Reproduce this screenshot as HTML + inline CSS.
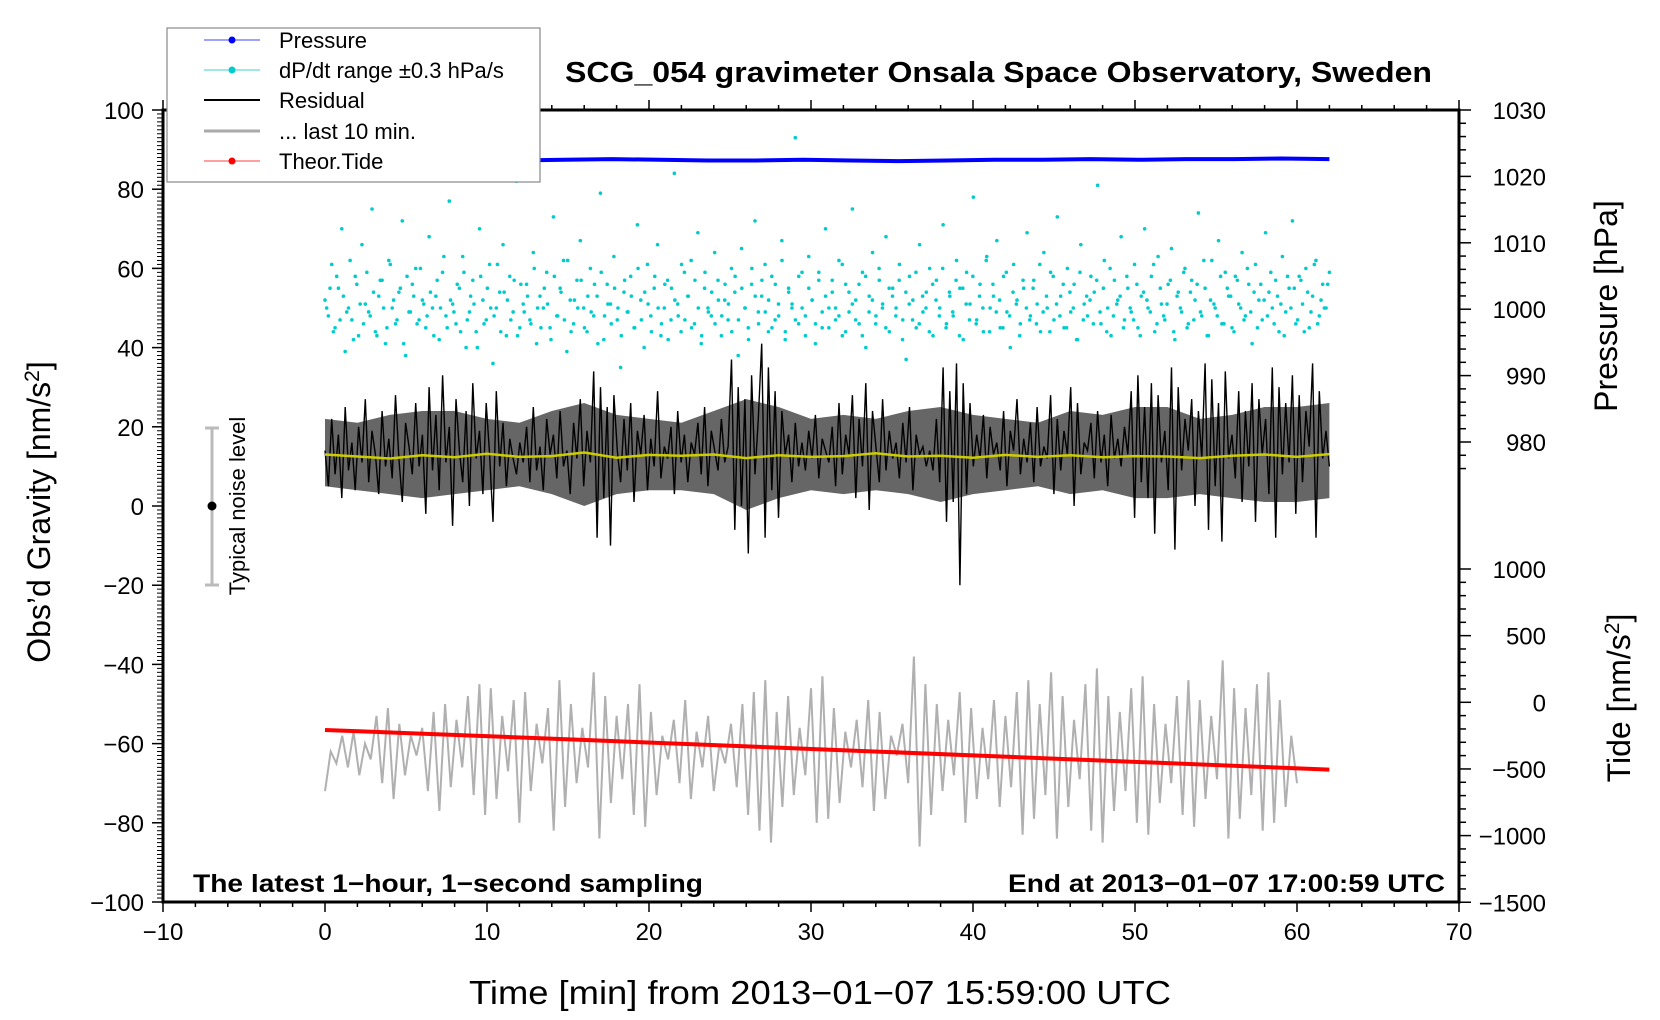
<!DOCTYPE html>
<html><head><meta charset="utf-8"><style>
html,body{margin:0;padding:0;background:#fff;}
svg{display:block;font-family:"Liberation Sans",sans-serif;}
</style></head><body>
<svg id="chart" width="1660" height="1020" viewBox="0 0 1660 1020" xmlns="http://www.w3.org/2000/svg">
<g id="axes"></g>
<g id="marks"></g>
<text x="565" y="82" font-size="29" font-weight="bold" textLength="867" lengthAdjust="spacingAndGlyphs">SCG_054 gravimeter Onsala Space Observatory, Sweden</text>
<text x="469" y="1004" font-size="33" textLength="702" lengthAdjust="spacingAndGlyphs">Time [min] from 2013−01−07 15:59:00 UTC</text>
<text transform="translate(50,512) rotate(-90)" text-anchor="middle" font-size="32">Obs’d Gravity [nm/s<tspan baseline-shift="super" font-size="21">2</tspan>]</text>
<text transform="translate(1617,306) rotate(-90)" text-anchor="middle" font-size="32">Pressure [hPa]</text>
<text transform="translate(1630,698) rotate(-90)" text-anchor="middle" font-size="32">Tide [nm/s<tspan baseline-shift="super" font-size="21">2</tspan>]</text>
<text x="193" y="892" font-size="25" font-weight="bold" textLength="510" lengthAdjust="spacingAndGlyphs">The latest 1−hour, 1−second sampling</text>
<text x="1445" y="892" font-size="25" font-weight="bold" text-anchor="end" textLength="437" lengthAdjust="spacingAndGlyphs">End at 2013−01−07 17:00:59 UTC</text>
<g>
<line x1="212" y1="428" x2="212" y2="585" stroke="#bbb" stroke-width="3"/>
<line x1="205" y1="428" x2="219" y2="428" stroke="#bbb" stroke-width="3"/>
<line x1="205" y1="585" x2="219" y2="585" stroke="#bbb" stroke-width="3"/>
<circle cx="212" cy="506" r="4.5" fill="#000"/>
<text transform="translate(245,506) rotate(-90)" text-anchor="middle" font-size="22">Typical noise level</text>
</g>
<g>
<rect x="167" y="28" width="373" height="154" fill="#fff" stroke="#888" stroke-width="1.2"/>
<g><line x1="204" y1="40" x2="260" y2="40" stroke="#4040ff" stroke-width="1"/><circle cx="232" cy="40" r="3.5" fill="#0000ff"/><text x="279" y="48" font-size="22">Pressure</text></g>
<g><line x1="204" y1="70" x2="260" y2="70" stroke="#40d0d0" stroke-width="1"/><circle cx="232" cy="70" r="3.5" fill="#00cccc"/><text x="279" y="78" font-size="22">dP/dt range ±0.3 hPa/s</text></g>
<g><line x1="204" y1="100" x2="260" y2="100" stroke="#000" stroke-width="2"/><text x="279" y="108" font-size="22">Residual</text></g>
<g><line x1="204" y1="131" x2="260" y2="131" stroke="#aaa" stroke-width="3"/><text x="279" y="139" font-size="22">... last 10 min.</text></g>
<g><line x1="204" y1="161" x2="260" y2="161" stroke="#ff4040" stroke-width="1"/><circle cx="232" cy="161" r="3.5" fill="#ff0000"/><text x="279" y="169" font-size="22">Theor.Tide</text></g>
</g>
</svg>
<script>
const xTicks=[-10,0,10,20,30,40,50,60,70];
const gTicks=[100,80,60,40,20,0,-20,-40,-60,-80,-100];
const pTicks=[1030,1020,1010,1000,990,980];
const tTicks=[1000,500,0,-500,-1000,-1500];
const pressure=[1022.6,1022.5,1022.6,1022.5,1022.4,1022.5,1022.6,1022.5,1022.4,1022.4,1022.5,1022.4,1022.3,1022.4,1022.5,1022.5,1022.6,1022.5,1022.6,1022.6,1022.7,1022.6];
const dpdt=[52,48,61,45,55,70,39,50,47,58,43,66,51,49,75,44,53,57,41,62,50,46,54,72,38,49,56,60,47,52,
45,68,50,53,42,59,48,77,51,46,55,63,40,49,57,44,70,52,47,61,36,50,54,66,43,58,49,82,45,51,
56,47,64,41,53,50,59,45,73,48,55,62,39,52,46,57,67,50,44,60,48,53,79,42,56,51,63,47,35,54,
49,58,45,71,52,40,61,48,55,66,43,50,57,47,84,51,44,59,53,62,46,69,41,55,50,48,64,57,43,52,
47,60,54,38,65,50,45,56,72,49,53,61,44,58,47,51,67,42,55,50,93,46,59,48,63,52,41,57,45,70,
50,54,47,62,43,56,49,75,52,46,59,40,53,64,48,57,51,68,44,55,50,61,47,37,58,52,45,66,49,54,
60,43,57,50,71,46,53,48,62,55,42,59,51,78,47,56,44,63,50,53,67,45,58,49,40,61,52,46,55,69,
48,57,51,44,64,50,59,47,73,53,45,60,49,56,42,66,51,48,58,54,81,46,62,50,43,57,52,68,47,55,
49,61,45,53,70,50,58,44,63,51,47,56,65,42,54,49,60,46,57,52,74,48,55,43,62,50,67,46,59,53,
45,58,51,64,48,56,41,61,52,47,69,54,50,57,44,63,49,55,72,46,58,51,60,45,53,62,48,56,50,59];
const dpdt2=[50,55,44,58,47,53,49,62,42,56,51,46,59,48,54,43,57,50,45,61,52,47,55,41,58,49,53,46,60,51,
48,54,43,57,50,63,45,52,49,56,44,59,47,53,51,40,58,46,55,50,48,61,44,54,52,47,57,43,56,49,
53,46,60,50,45,55,51,42,58,48,54,47,62,44,52,50,57,45,53,49,56,41,59,48,51,46,55,50,43,57,
49,53,45,60,47,54,51,44,58,50,46,56,42,55,52,48,61,47,53,45,57,50,43,59,49,54,46,52,48,56,
51,44,58,47,55,50,42,60,53,46,57,49,52,45,56,48,62,44,54,51,47,58,50,43,55,52,46,59,49,53,
45,57,50,48,61,44,54,51,47,56,43,58,49,52,46,60,50,45,55,53,48,57,42,54,51,47,59,46,53,50,
44,56,52,48,60,45,54,49,57,43,55,51,47,58,46,53,50,62,44,56,49,52,45,59,48,54,51,43,57,50,
47,55,46,61,49,53,44,58,51,48,56,45,54,50,42,59,47,53,52,46,57,49,55,44,60,48,51,53,45,58,
50,47,56,43,54,52,49,61,46,55,48,51,57,44,53,50,59,45,54,47,56,49,62,43,52,51,48,58,46,55,
53,44,57,50,47,60,49,54,45,56,52,48,59,46,53,51,43,58,50,55,47,57,44,54,49,61,46,52,50,56];
const residual=[14,5,22,8,18,2,25,9,16,4,20,11,27,6,19,13,3,24,10,17,7,28,12,1,21,15,8,26,10,18,
-2,30,9,23,4,33,11,20,-5,27,14,6,24,0,31,12,19,3,26,13,-4,29,10,21,5,17,12,8,16,11,
20,6,25,9,15,4,22,13,18,7,24,10,14,3,21,12,27,5,19,11,34,-8,30,2,25,-10,28,14,6,22,
9,26,1,19,13,23,4,17,10,29,7,15,12,20,3,24,11,18,6,16,13,21,8,25,5,19,14,9,22,11,
15,37,-6,30,0,27,-12,33,8,22,41,-8,35,4,29,-3,24,13,18,6,21,10,16,9,19,12,23,7,17,14,
11,20,5,26,8,18,13,28,2,22,10,31,-1,24,15,6,27,9,19,12,16,7,21,11,25,4,18,13,15,10,
14,9,22,6,35,-4,29,1,36,-20,31,3,26,10,18,12,23,7,20,13,16,9,24,5,19,14,27,8,17,11,
21,6,25,10,15,12,28,3,22,9,19,13,30,0,26,8,16,14,21,7,24,11,18,5,23,12,17,10,20,13,
29,-3,33,6,25,2,31,-7,28,11,19,4,35,-11,30,9,22,14,27,0,24,12,36,-6,32,5,26,-9,34,12,
18,7,29,1,24,10,31,-4,27,13,22,3,35,-8,30,8,26,11,33,-2,28,6,24,15,36,-8,29,12,19,10];
const coreUpper=[22,21,23,24,24,22,21,24,26,23,22,21,24,27,25,22,23,22,24,25,23,22,21,24,23,25,25,22,23,25,25,26];
const coreLower=[5,4,3,2,3,4,5,3,0,3,4,4,3,-1,2,4,3,4,3,1,3,4,5,3,4,2,2,3,2,1,1,2];
const smooth=[13,12.5,12,12.8,12.3,13.2,12.4,12.6,13.5,12.2,12.9,12.7,13,12.1,12.8,12.4,12.6,13.3,12.5,12.7,12.2,12.9,12.4,12.8,12.3,12.6,12.5,12.1,12.7,13,12.4,13.1];
const last10=[-72,-62,-65,-58,-66,-57,-68,-60,-64,-53,-70,-51,-74,-55,-68,-58,-63,-56,-72,-52,-77,-50,-71,-54,-66,-48,-73,-45,-78,-46,-74,-53,-67,-49,-80,-47,-72,-55,-65,-51,
-82,-44,-76,-50,-70,-56,-66,-42,-84,-48,-75,-53,-69,-50,-78,-45,-81,-52,-73,-58,-64,-54,-70,-49,-74,-57,-66,-53,-72,-60,-65,-55,-71,-50,-78,-47,-82,-44,-85,-52,
-76,-48,-73,-56,-68,-46,-80,-43,-79,-51,-75,-57,-66,-54,-71,-49,-77,-52,-74,-58,-63,-55,-70,-38,-86,-45,-78,-50,-72,-54,-68,-47,-80,-51,-74,-56,-69,-49,-76,-53,
-71,-47,-83,-44,-79,-50,-73,-42,-84,-48,-76,-54,-69,-45,-82,-41,-85,-48,-77,-52,-72,-46,-80,-43,-83,-50,-75,-55,-70,-48,-78,-44,-81,-49,-74,-53,-69,-39,-84,-46,
-79,-51,-73,-45,-82,-42,-80,-49,-76,-58,-70];
const tide=[-208,-280,-355,-430,-505];
const xS=v=>163+(v+10)*16.2;
const gY=v=>110+(100-v)*3.96;
const pY=v=>110+(1030-v)*6.64;
const tY=v=>569+(1000-v)*0.1333;
const NS='http://www.w3.org/2000/svg';
const axes=document.getElementById('axes');
const marks=document.getElementById('marks');
function mk(parent,tag,attrs){const e=document.createElementNS(NS,tag);for(const k in attrs)e.setAttribute(k,attrs[k]);parent.appendChild(e);return e;}
function tline(p,x1,y1,x2,y2,w){mk(p,'line',{x1,y1,x2,y2,stroke:'#000','stroke-width':w||1.5});}
const frame=mk(axes,'rect',{x:163,y:110,width:1296,height:792,fill:'none',stroke:'#000','stroke-width':3});


for(let v=-10;v<=70;v+=2){const x=xS(v);const maj=v%10===0;tline(axes,x,902,x,maj?912:907);tline(axes,x,110,x,maj?100:105);}
xTicks.forEach(v=>{const t=mk(axes,'text',{x:xS(v),y:940,'font-size':24,'text-anchor':'middle'});t.textContent=String(v).replace('-','−');

});
for(let v=-100;v<=100;v+=1){const y=gY(v);const maj=v%20===0;tline(axes,163,y,maj?152:157,y,1);}
gTicks.forEach(v=>{tline(axes,152,gY(v),163,gY(v),1.5);const t=mk(axes,'text',{x:144,y:gY(v)+9,'font-size':24,'text-anchor':'end'});t.textContent=String(v).replace('-','−');

});
for(let v=976;v<=1030;v+=2){const y=pY(v);const maj=v%10===0;tline(axes,1459,y,maj?1471:1466,y,1.5);}
pTicks.forEach(v=>{const t=mk(axes,'text',{x:1546,y:pY(v)+9,'font-size':24,'text-anchor':'end'});t.textContent=v;

});
for(let v=-1500;v<=1000;v+=100){const y=tY(v);const maj=v%500===0;tline(axes,1459,y,maj?1471:1466,y,1.5);}
tTicks.forEach(v=>{const t=mk(axes,'text',{x:1546,y:tY(v)+9,'font-size':24,'text-anchor':'end'});t.textContent=String(v).replace('-','−');

});
function pts(arr,x0,x1,yf){return arr.map((v,i)=>(xS(x0+(x1-x0)*i/(arr.length-1))).toFixed(1)+','+yf(v).toFixed(1)).join(' ');}
const gcyan=mk(marks,'g',{fill:'#00cccc'});


dpdt.forEach((v,i)=>{const c=mk(gcyan,'circle',{cx:xS(62*i/(dpdt.length-1)),cy:gY(v),r:1.8});

});
dpdt2.forEach((v,i)=>{const c=mk(gcyan,'circle',{cx:xS(62*(i+0.5)/dpdt2.length),cy:gY(v),r:1.8});

});
const pl=mk(marks,'polyline',{points:pts(pressure,0,62,pY),fill:'none',stroke:'#0000ff','stroke-width':4});


const band=mk(marks,'polygon',{points:pts(coreUpper,0,62,gY)+' '+pts(coreLower,0,62,gY).split(' ').reverse().join(' '),fill:'#000','fill-opacity':0.6});


const rl=mk(marks,'polyline',{points:pts(residual,0,62,gY),fill:'none',stroke:'#000','stroke-width':1.4});


const sl=mk(marks,'polyline',{points:pts(smooth,0,62,gY),fill:'none',stroke:'#cccc00','stroke-width':2.5});


const gl=mk(marks,'polyline',{points:pts(last10,0,60,gY),fill:'none',stroke:'#b0b0b0','stroke-width':2});


const tl=mk(marks,'polyline',{points:pts(tide,0,62,tY),fill:'none',stroke:'#ff0000','stroke-width':4});


</script>
</body></html>
